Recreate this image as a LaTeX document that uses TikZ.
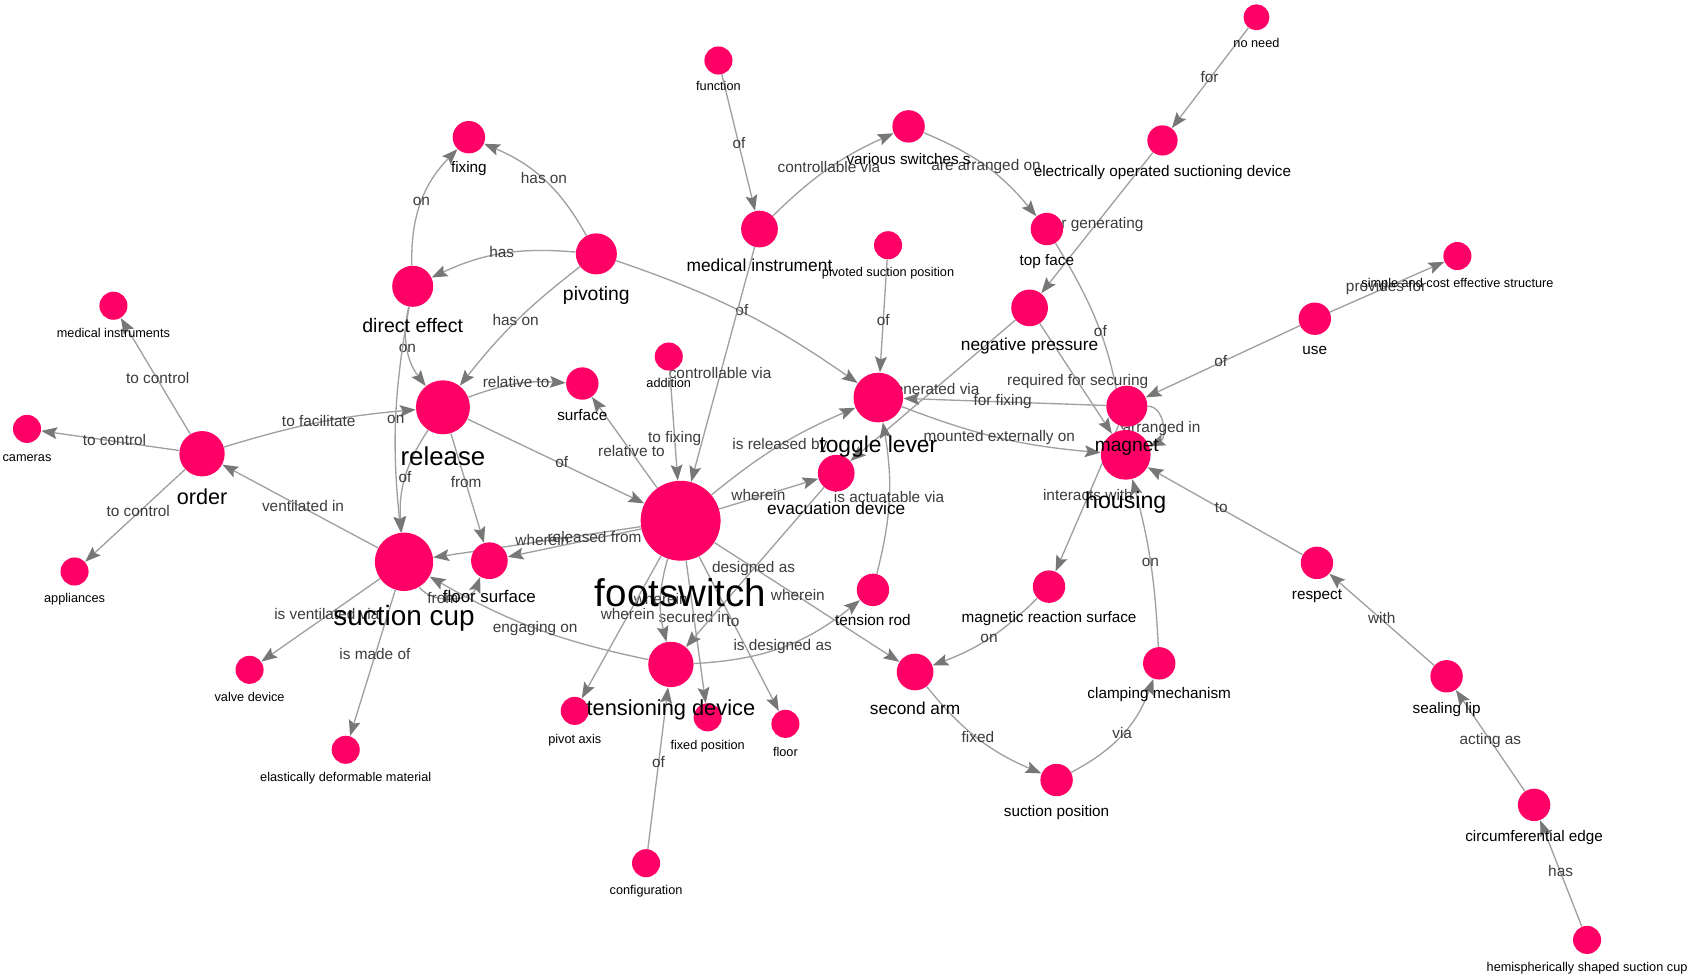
\documentclass[tikz,border=0pt]{standalone}
\usepackage{fontspec}
\setmainfont{Liberation Sans}
\usetikzlibrary{arrows.meta}
\definecolor{nodepink}{HTML}{FF0066}
\definecolor{edgegray}{HTML}{A0A0A0}
\definecolor{arrowgray}{HTML}{777777}
\definecolor{lblgray}{HTML}{3C3C3C}
\pgfdeclarelayer{back}\pgfdeclarelayer{bg}\pgfdeclarelayer{fg}\pgfsetlayers{back,bg,main,fg}
\tikzset{
  vtx/.style={circle, fill=nodepink, draw=none, inner sep=0pt},
  nlbl/.style={font=\fontsize{#1}{#1}\selectfont, anchor=base, inner sep=0pt, text=black},
  edge/.style={draw=edgegray, line width=0.7pt, -{Stealth[length=8.3pt,width=6.2pt,inset=1.5pt,color=arrowgray]}},
  elbl/.style={font=\fontsize{8.1}{8.1}\selectfont, text=lblgray, inner sep=0pt, text height=5.8pt, text depth=1.7pt}
}
\newcommand{\mkvert}[7]{%
  \node[vtx, minimum size=#4*0.04cm] (#1) at (#2,#3) {};
  \begin{pgfonlayer}{fg}\node[nlbl=#5] (#1-l) at (#2,#7) {#6};\end{pgfonlayer}}
% straight edge, label at the midpoint of the two centres
\newcommand{\sedge}[3]{\draw[edge] (#1) -- (#2); \path (#1.center) -- node[elbl]{#3} (#2.center);}
% curved edge
\newcommand{\cedge}[4]{\draw[edge] (#1) to[#3] node[elbl]{#4} (#2);}
\begin{document}
\begin{tikzpicture}[x=0.02cm, y=-0.02cm]
\begin{pgfonlayer}{back}
\path[use as bounding box, fill=white] (0,0) rectangle (1568,905);
\end{pgfonlayer}
% nodes: name, x, y, r, fontsize, label, baseline
\mkvert{function}{665}{56}{13}{6.7}{function}{84}
\mkvert{noneed}{1163}{16}{12}{6.7}{no need}{44}
\mkvert{eosd}{1076}{130}{14}{8.05}{electrically operated suctioning device}{163}
\mkvert{fixing}{434}{127}{15}{8.05}{fixing}{160}
\mkvert{switches}{841}{117}{15}{8.05}{various switches s}{152}
\mkvert{medinst}{703}{212}{17}{9.15}{medical instrument}{251}
\mkvert{pivoting}{552}{235}{19}{10.2}{pivoting}{278}
\mkvert{direct}{382}{265}{19}{10.3}{direct effect}{308}
\mkvert{topface}{969}{212}{15}{8.05}{top face}{246}
\mkvert{pivsuct}{822}{227}{13}{6.7}{pivoted suction position}{256}
\mkvert{simple}{1349}{237}{13}{6.7}{simple and cost effective structure}{266}
\mkvert{medinsts}{105}{283}{13}{6.7}{medical instruments}{312}
\mkvert{negpress}{953}{285}{17}{9.1}{negative pressure}{324}
\mkvert{use}{1217}{295}{15}{8.05}{use}{328}
\mkvert{addition}{619}{330}{13}{6.7}{addition}{359}
\mkvert{surface}{539}{355}{15}{8.05}{surface}{389}
\mkvert{release}{410}{377}{25}{13.6}{release}{431}
\mkvert{toggle}{813}{368}{23}{12.0}{toggle lever}{419}
\mkvert{magnet}{1043}{376}{19}{10.1}{magnet}{418}
\mkvert{housing}{1042}{421}{23}{12.2}{housing}{471}
\mkvert{cameras}{25}{397}{13}{6.7}{cameras}{427}
\mkvert{order}{187}{420}{21}{11.4}{order}{467}
\mkvert{evac}{774}{438}{17}{9.1}{evacuation device}{476}
\mkvert{footswitch}{630}{482}{37}{20.3}{footswitch}{561}
\mkvert{suctioncup}{374}{520}{27}{14.7}{suction cup}{579}
\mkvert{floorsurf}{453}{519}{17}{8.9}{floor surface}{558}
\mkvert{appliances}{69}{529}{13}{6.7}{appliances}{558}
\mkvert{tensionrod}{808}{546}{15}{8.05}{tension rod}{579}
\mkvert{magreact}{971}{543}{15}{8.05}{magnetic reaction surface}{576}
\mkvert{respect}{1219}{521}{15}{8.05}{respect}{555}
\mkvert{valve}{231}{620}{13}{6.7}{valve device}{649}
\mkvert{tensdev}{621}{615}{21}{11.5}{tensioning device}{662}
\mkvert{secondarm}{847}{622}{17}{9.1}{second arm}{661}
\mkvert{clamping}{1073}{614}{15}{8.05}{clamping mechanism}{647}
\mkvert{sealing}{1339}{626}{15}{8.05}{sealing lip}{660}
\mkvert{pivotaxis}{532}{658}{13}{6.7}{pivot axis}{688}
\mkvert{fixedpos}{655}{664}{13}{6.7}{fixed position}{694}
\mkvert{floor}{727}{670}{13}{6.7}{floor}{700}
\mkvert{edm}{320}{694}{13}{6.7}{elastically deformable material}{723}
\mkvert{suctpos}{978}{722}{15}{8.05}{suction position}{756}
\mkvert{circedge}{1420}{745}{15}{8.05}{circumferential edge}{779}
\mkvert{config}{598}{799}{13}{6.7}{configuration}{828}
\mkvert{hemi}{1469}{870}{13}{6.7}{hemispherically shaped suction cup}{899}
\begin{pgfonlayer}{bg}
\sedge{function}{medinst}{of}
\cedge{medinst}{switches}{bend left=10}{controllable via}
\cedge{switches}{topface}{bend left=14}{are arranged on}
\sedge{noneed}{eosd}{for}
\sedge{eosd}{negpress}{for generating}
\cedge{topface}{housing}{bend left=12}{of}
\sedge{negpress}{evac}{generated via}
\sedge{negpress}{housing}{required for securing}
\sedge{magnet}{toggle}{for fixing}
\cedge{toggle}{housing}{bend right=8}{mounted externally on}
\draw[edge] (magnet.east) .. controls +(16,0) and +(16,-7) .. node[elbl, yshift=-3pt]{arranged in} (housing.20);
\sedge{use}{magnet}{of}
\sedge{use}{simple}{provides for}
\sedge{respect}{housing}{to}
\sedge{sealing}{respect}{with}
\sedge{circedge}{sealing}{acting as}
\sedge{hemi}{circedge}{has}
\sedge{magnet}{magreact}{interacts with}
\cedge{clamping}{housing}{bend right=6}{on}
\cedge{suctpos}{clamping}{bend right=21}{via}
\cedge{secondarm}{suctpos}{bend right=14}{fixed}
\cedge{magreact}{secondarm}{bend left=12}{on}
\sedge{footswitch}{secondarm}{wherein}
\cedge{tensionrod}{toggle}{bend right=12}{is actuatable via}
\cedge{tensdev}{tensionrod}{bend right=18}{is designed as}
\sedge{footswitch}{floor}{to}
\sedge{footswitch}{fixedpos}{secured in}
\cedge{footswitch}{tensdev}{bend right=15}{wherein}
\sedge{footswitch}{pivotaxis}{wherein}
\sedge{config}{tensdev}{of}
\sedge{evac}{tensdev}{designed as}
\sedge{footswitch}{evac}{wherein}
\cedge{footswitch}{toggle}{bend left=8}{is released by}
\cedge{pivoting}{toggle}{bend left=8}{of}
\sedge{medinst}{footswitch}{controllable via}
\sedge{addition}{footswitch}{to fixing}
\sedge{footswitch}{surface}{relative to}
\cedge{release}{surface}{bend left=12}{relative to}
\sedge{release}{footswitch}{of}
\sedge{footswitch}{suctioncup}{wherein}
\draw[edge] (footswitch) -- (floorsurf);
\path (footswitch.center) -- node[elbl, pos=0.45]{released from} (floorsurf.center);
\sedge{release}{floorsurf}{from}
\cedge{release}{suctioncup}{bend right=19}{of}
\cedge{direct}{release}{bend right=25}{on}
\cedge{direct}{fixing}{bend left=23}{on}
\cedge{pivoting}{fixing}{bend right=19}{has on}
\cedge{pivoting}{direct}{bend right=15}{has}
\cedge{pivoting}{release}{bend right=7}{has on}
\cedge{order}{release}{bend left=6}{to facilitate}
\cedge{direct}{suctioncup}{bend right=8}{on}
\sedge{order}{medinsts}{to control}
\sedge{order}{cameras}{to control}
\sedge{order}{appliances}{to control}
\sedge{suctioncup}{order}{ventilated in}
\sedge{suctioncup}{valve}{is ventilated via}
\sedge{suctioncup}{edm}{is made of}
\draw[edge] (suctioncup) to[bend right=60] node[elbl, yshift=-1pt, xshift=-5pt]{from} (floorsurf);
\cedge{tensdev}{suctioncup}{bend left=9}{engaging on}
\sedge{pivsuct}{toggle}{of}
\end{pgfonlayer}
\end{tikzpicture}
\end{document}
